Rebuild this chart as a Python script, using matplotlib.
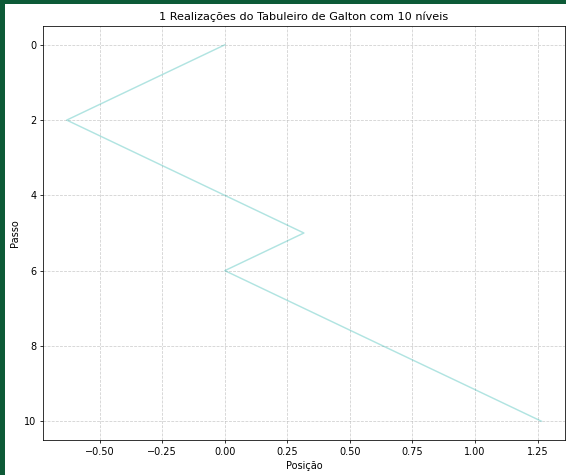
import numpy as np
import matplotlib.pyplot as plt
from matplotlib.patches import Rectangle

# posições (passos de +-1/sqrt(10))
passos = [0, 1, 2, 3, 4, 5, 6, 7, 8, 9, 10]
posicao = [0.0, -0.316, -0.632, -0.316, 0.0, 0.316, 0.0, 0.316, 0.632, 0.949, 1.265]
titulo = '1 Realizações do Tabuleiro de Galton com 10 níveis'

# o original parece ter sido reduzido, então tudo fica ~0.7x
s = 0.7
plt.rcParams.update({
    'font.size': 10 * s,
    'axes.titlesize': 12 * s * 0.97,
    'axes.labelsize': 10 * s,
    'xtick.labelsize': 10 * s,
    'ytick.labelsize': 10 * s,
    'xtick.major.size': 3.5 * s,
    'ytick.major.size': 3.5 * s,
    'xtick.major.pad': 3.5 * s,
    'ytick.major.pad': 3.5 * s,
    'xtick.major.width': 0.8 * s,
    'ytick.major.width': 0.8 * s,
    'axes.linewidth': 0.8 * s,
    'axes.labelpad': 4.0 * s,
    'axes.titlepad': 6.0 * s,
    'grid.linewidth': 0.8 * s,
    'lines.linewidth': 1.5 * s,
})

fig = plt.figure(figsize=(5.66, 4.75), dpi=100)
fig.patch.set_facecolor('#0d5a37')
# fundo branco (a borda verde é do print original)
fig.add_artist(Rectangle((5/566, 0), 1, 471/475, transform=fig.transFigure,
                         facecolor='white', edgecolor='none', zorder=-10))

ax = fig.add_axes([43/566, 35/475, 522/566, 414/475])
ax.plot(posicao, passos, color='lightseagreen', alpha=0.35, linewidth=1.5 * s)
ax.invert_yaxis()
ax.grid(True, linestyle='--', alpha=0.6)
ax.set_title(titulo)
ax.set_xlabel('Posição')
ax.set_ylabel('Passo')

fig.savefig('out.png', dpi=100, facecolor=fig.get_facecolor())
